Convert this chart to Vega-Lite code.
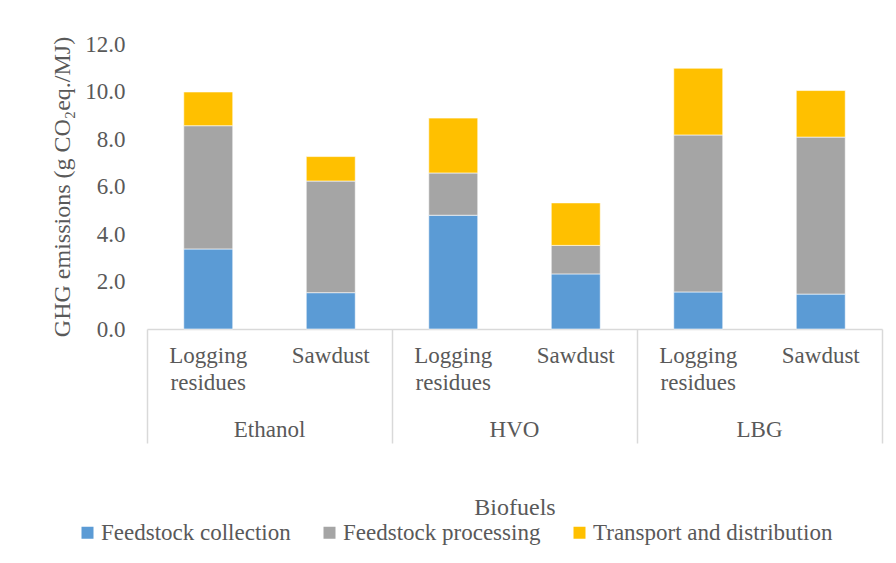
{
  "$schema": "https://vega.github.io/schema/vega-lite/v6.json",
  "autosize": {"type": "none"},
  "width": 735,
  "height": 285,
  "padding": {"left": 147, "top": 44, "right": 14, "bottom": 234},
  "background": "white",
  "config": {
    "font": "Liberation Serif",
    "view": {"stroke": null}
  },
  "data": {
    "values": [
      {"Key": "Ethanol|Logging residues", "Biofuel": "Ethanol", "Stage": "Feedstock collection", "Value": 3.37},
      {"Key": "Ethanol|Logging residues", "Biofuel": "Ethanol", "Stage": "Feedstock processing", "Value": 5.19},
      {"Key": "Ethanol|Logging residues", "Biofuel": "Ethanol", "Stage": "Transport and distribution", "Value": 1.42},
      {"Key": "Ethanol|Sawdust", "Biofuel": "Ethanol", "Stage": "Feedstock collection", "Value": 1.53},
      {"Key": "Ethanol|Sawdust", "Biofuel": "Ethanol", "Stage": "Feedstock processing", "Value": 4.70},
      {"Key": "Ethanol|Sawdust", "Biofuel": "Ethanol", "Stage": "Transport and distribution", "Value": 1.03},
      {"Key": "HVO|Logging residues", "Biofuel": "HVO", "Stage": "Feedstock collection", "Value": 4.79},
      {"Key": "HVO|Logging residues", "Biofuel": "HVO", "Stage": "Feedstock processing", "Value": 1.78},
      {"Key": "HVO|Logging residues", "Biofuel": "HVO", "Stage": "Transport and distribution", "Value": 2.31},
      {"Key": "HVO|Sawdust", "Biofuel": "HVO", "Stage": "Feedstock collection", "Value": 2.32},
      {"Key": "HVO|Sawdust", "Biofuel": "HVO", "Stage": "Feedstock processing", "Value": 1.20},
      {"Key": "HVO|Sawdust", "Biofuel": "HVO", "Stage": "Transport and distribution", "Value": 1.79},
      {"Key": "LBG|Logging residues", "Biofuel": "LBG", "Stage": "Feedstock collection", "Value": 1.56},
      {"Key": "LBG|Logging residues", "Biofuel": "LBG", "Stage": "Feedstock processing", "Value": 6.61},
      {"Key": "LBG|Logging residues", "Biofuel": "LBG", "Stage": "Transport and distribution", "Value": 2.81},
      {"Key": "LBG|Sawdust", "Biofuel": "LBG", "Stage": "Feedstock collection", "Value": 1.47},
      {"Key": "LBG|Sawdust", "Biofuel": "LBG", "Stage": "Feedstock processing", "Value": 6.61},
      {"Key": "LBG|Sawdust", "Biofuel": "LBG", "Stage": "Transport and distribution", "Value": 1.96}
    ]
  },
  "layer": [
    {
      "mark": {"type": "bar", "stroke": "white", "strokeWidth": 0.6},
      "encoding": {
        "x": {
          "field": "Key", "type": "nominal", "sort": null,
          "scale": {"paddingInner": 0.6, "paddingOuter": 0.3},
          "axis": {
            "orient": "bottom", "title": null, "labelAngle": 0, "ticks": false,
            "domainColor": "#d9d9d9", "domainWidth": 1.5,
            "labelFont": "Liberation Serif", "labelColor": "#595959",
            "labelFontSize": 23, "labelPadding": 15, "labelLineHeight": 27,
            "labelExpr": "split(split(datum.label, '|')[1], ' ')"
          }
        },
        "y": {
          "field": "Value", "type": "quantitative", "aggregate": "sum",
          "scale": {"domain": [0, 12], "nice": false},
          "axis": {
            "title": "GHG emissions (g CO₂eq./MJ)", "titleFontSize": 24, "titlePadding": 10,
            "titleFont": "Liberation Serif", "titleColor": "#595959", "titleFontWeight": "normal",
            "values": [0, 2, 4, 6, 8, 10, 12], "format": ".1f",
            "labelFont": "Liberation Serif", "labelColor": "#595959",
            "labelFontSize": 23, "labelPadding": 22, "domain": false, "ticks": false, "grid": false
          }
        },
        "color": {
          "field": "Stage", "type": "nominal",
          "scale": {"domain": ["Feedstock collection", "Feedstock processing", "Transport and distribution"], "range": ["#5B9BD5", "#A5A5A5", "#FFC000"]},
          "legend": {
            "title": null, "orient": "none", "direction": "horizontal", "legendX": -71, "legendY": 477,
            "symbolType": "square", "symbolSize": 144, "symbolStrokeWidth": 0,
            "labelFont": "Liberation Serif", "labelColor": "#595959", "labelLimit": 0,
            "labelFontSize": 23, "columnPadding": 27, "labelOffset": 2
          }
        },
        "order": {"field": "Stage", "sort": "ascending"}
      }
    },
    {
      "mark": {"type": "bar", "opacity": 0},
      "encoding": {
        "x": {
          "field": "Biofuel", "type": "nominal", "sort": null,
          "scale": {"type": "band", "paddingInner": 0, "paddingOuter": 0},
          "axis": {
            "orient": "bottom",
            "title": "Biofuels", "titleFontSize": 24, "titlePadding": 52,
            "titleFont": "Liberation Serif", "titleColor": "#595959", "titleFontWeight": "normal",
            "labelAngle": 0, "labelFontSize": 23, "labelPadding": -25,
            "labelFont": "Liberation Serif", "labelColor": "#595959",
            "domain": false, "ticks": true, "tickSize": 114, "tickColor": "#d9d9d9", "tickWidth": 1.5,
            "bandPosition": 1, "tickExtra": true
          }
        }
      }
    }
  ],
  "resolve": {"scale": {"x": "independent"}}
}
